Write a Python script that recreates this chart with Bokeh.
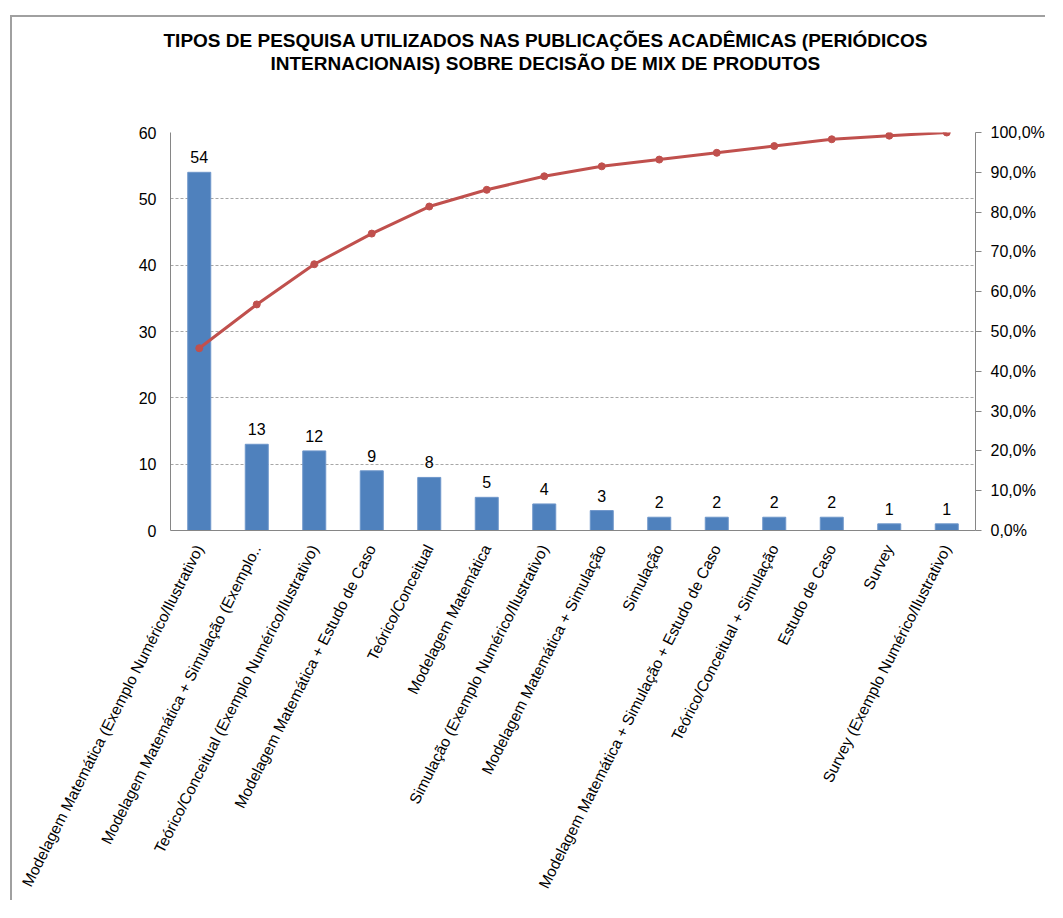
from bokeh.plotting import figure
from bokeh.models import (FactorRange, Range1d, LinearAxis, FixedTicker,
                          CustomJSTickFormatter, Title, ColumnDataSource)
from bokeh.core.properties import value
from bokeh.embed import file_html
from bokeh.resources import INLINE

categories = [
    "Modelagem Matemática (Exemplo Numérico/Ilustrativo)",
    "Modelagem Matemática + Simulação (Exemplo..",
    "Teórico/Conceitual (Exemplo Numérico/Ilustrativo)",
    "Modelagem Matemática + Estudo de Caso",
    "Teórico/Conceitual",
    "Modelagem Matemática",
    "Simulação (Exemplo Numérico/Ilustrativo)",
    "Modelagem Matemática + Simulação",
    "Simulação",
    "Modelagem Matemática + Simulação + Estudo de Caso",
    "Teórico/Conceitual + Simulação",
    "Estudo de Caso",
    "Survey",
    "Survey (Exemplo Numérico/Ilustrativo)",
]
counts = [54, 13, 12, 9, 8, 5, 4, 3, 2, 2, 2, 2, 1, 1]
cumulative_pct = [45.8, 56.8, 66.9, 74.6, 81.4, 85.6, 89.0, 91.5, 93.2, 94.9,
                  96.6, 98.3, 99.2, 100.0]
left_ticks = [0, 10, 20, 30, 40, 50, 60]
right_ticks = [0, 10, 20, 30, 40, 50, 60, 70, 80, 90, 100]
title_lines = [
    "TIPOS DE PESQUISA UTILIZADOS NAS PUBLICAÇÕES ACADÊMICAS (PERIÓDICOS",
    "INTERNACIONAIS) SOBRE DECISÃO DE MIX DE PRODUTOS",
]

FONT = "Liberation Sans"
AXIS_GRAY = "#868686"

src = ColumnDataSource(dict(cat=categories, n=counts, pct=cumulative_pct,
                            lbl=[str(v) for v in counts]))

p = figure(x_range=FactorRange(factors=categories), y_range=Range1d(0, 60),
           width=1035, height=885, output_backend="svg", toolbar_location=None,
           min_border_left=158, min_border_right=72, min_border_top=115,
           min_border_bottom=372)
p.margin = (15, 0, 0, 10)
p.styles = {"border-top": "2px solid #a0a0a0", "border-left": "2px solid #a0a0a0"}
p.outline_line_color = None
p.background_fill_color = "white"
p.border_fill_color = "white"

p.extra_y_ranges = {"pct": Range1d(0, 100)}

# bars
p.vbar(x="cat", top="n", width=0.4, source=src, fill_color="#4F81BD",
       line_color="#6E96CA", line_width=1)
# bar labels
p.text(x="cat", y="n", text="lbl", source=src, text_align="center",
       text_baseline="bottom", y_offset=-9, text_font=value(FONT),
       text_font_size="16px", text_color="black")

# cumulative line
p.line(x="cat", y="pct", source=src, y_range_name="pct", line_color="#C0504D",
       line_width=3)
p.scatter(x="cat", y="pct", source=src, y_range_name="pct", size=7,
          fill_color="#C0504D", line_color="#C0504D")

# left axis
yax = p.yaxis[0]
yax.ticker = FixedTicker(ticks=left_ticks)
yax.major_tick_out = 0
yax.major_tick_in = 0
yax.minor_tick_out = 0
yax.minor_tick_in = 0
yax.axis_line_color = AXIS_GRAY
yax.major_label_standoff = 14
yax.major_label_text_font = FONT
yax.major_label_text_font_size = "16px"
yax.major_label_text_color = "black"

# right axis
rax = LinearAxis(y_range_name="pct", ticker=FixedTicker(ticks=right_ticks),
                 formatter=CustomJSTickFormatter(
                     code="return tick.toFixed(1).replace('.', ',') + '%';"))
rax.major_tick_out = 6
rax.major_tick_in = 0
rax.minor_tick_out = 0
rax.minor_tick_in = 0
rax.axis_line_color = AXIS_GRAY
rax.major_tick_line_color = AXIS_GRAY
rax.major_label_standoff = 9
rax.major_label_text_font = FONT
rax.major_label_text_font_size = "16px"
rax.major_label_text_color = "black"
p.add_layout(rax, "right")

# bottom axis
xax = p.xaxis[0]
xax.major_tick_out = 0
xax.major_tick_in = 0
xax.axis_line_color = AXIS_GRAY
xax.major_label_orientation = 1.1
xax.major_label_standoff = 15
xax.major_label_text_font = FONT
xax.major_label_text_font_size = "15.5px"
xax.major_label_text_color = "black"

# grid
p.xgrid.grid_line_color = None
p.ygrid.ticker = FixedTicker(ticks=left_ticks)
p.ygrid.grid_line_color = "#a6a6a6"
p.ygrid.grid_line_dash = "3 2"
p.ygrid.grid_line_width = 1

# title: blank spacer closest to frame, then line 2, then line 1
p.add_layout(Title(text=" ", text_font=FONT, text_font_size="19px",
                   standoff=36, text_color="white"), "above")
p.add_layout(Title(text=title_lines[1], align="left", offset=100, standoff=0,
                   text_font=FONT, text_font_style="bold",
                   text_font_size="19px", text_color="black"), "above")
p.add_layout(Title(text=title_lines[0], align="left", offset=-7, standoff=0,
                   text_font=FONT, text_font_style="bold",
                   text_font_size="19px", text_color="black"), "above")

open("out.html", "w").write(file_html(p, INLINE))
